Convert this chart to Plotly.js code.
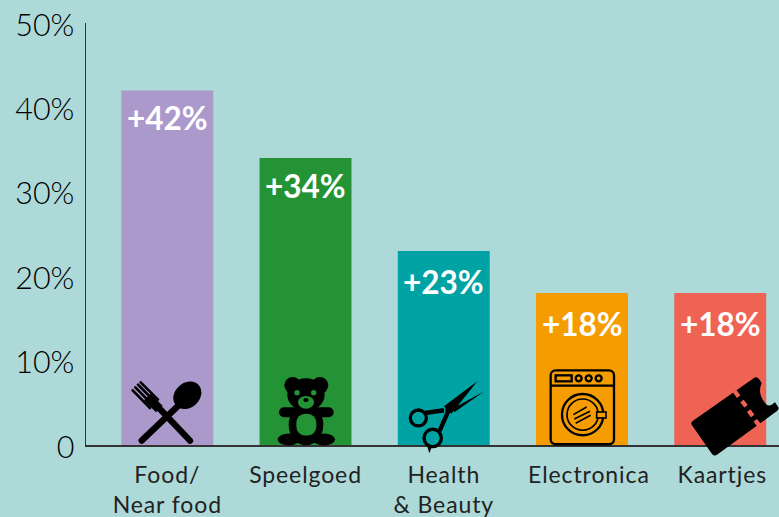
<!DOCTYPE html>
<html><head><meta charset="utf-8">
<script src="https://cdn.plot.ly/plotly-3.0.1.min.js"></script>
<style>html,body{margin:0;padding:0;background:#ADD9D9;overflow:hidden}
.xtick text{letter-spacing:.9px}</style>
</head><body><div id="chart" style="width:779px;height:517px"></div>
<script>
const categories = ["Food/<br>Near food","Speelgoed","Health<br>&amp; Beauty","Electronica","Kaartjes"];
const values = [42,34,23,18,18];
const barColors = ["#AB99CC","#239335","#00A3A3","#F59D00","#EF6354"];
const yTickVals = [0,10,20,30,40,50];
const yTickText = ["0","10%","20%","30%","40%","50%"];
const labelDrop = [-27,-28,-31,-31,-31];
const catLabelPos = [0,1,2,3.05,4.015];
const FONT = "Lato, 'Open Sans', sans-serif";

const L=86,R=779,T=23,B=445.4;
const fork = `<g stroke="#000" fill="none" stroke-linecap="round"><path d="M125 243L235 138" stroke-width="19"/><path d="M270 243L172 140" stroke-width="19"/><path d="M150 145L98 92M158 136L106 83M166 128L114 75M174 120L122 68" stroke-width="8"/><path d="M142 112L178 148" stroke-width="28" stroke-linecap="butt"/></g><ellipse cx="262" cy="107" rx="46" ry="37" transform="rotate(-42 262 107)" fill="#000"/>`;
const bear = `<circle cx="578" cy="77" r="25"/><circle cx="660" cy="77" r="25"/><ellipse cx="618" cy="105" rx="56" ry="49"/><ellipse cx="618" cy="195" rx="52" ry="62"/><path d="M552 158L686 158" stroke="#000" stroke-width="30" stroke-linecap="round"/><ellipse cx="566" cy="240" rx="33" ry="18"/><ellipse cx="672" cy="240" rx="33" ry="18"/><circle cx="591" cy="99" r="8" fill="#239335"/><circle cx="641" cy="99" r="8" fill="#239335"/><ellipse cx="618" cy="128" rx="24" ry="19" fill="#239335"/><ellipse cx="618" cy="121" rx="8" ry="6"/><rect x="589" y="162" width="60" height="66" rx="27" fill="#239335"/>`;
const scissors = `<g fill="none" stroke="#000" stroke-width="10"><circle cx="115" cy="175" r="24"/><circle cx="158" cy="235" r="26"/><path d="M135 160L192 152" stroke-width="14"/><path d="M207 150L178 215" stroke-width="13"/></g><path d="M192 140L292 65L214 162ZM216 148L313 95L224 157Z"/><circle cx="205" cy="150" r="9"/><path d="M140 255L157 258L148 281Z"/>`;
const washer = `<g fill="none" stroke="#000" stroke-width="7"><rect x="512" y="32" width="190" height="222" rx="15"/><path d="M512 78H702"/><rect x="527" y="47" width="48" height="18"/><circle cx="596" cy="56" r="9"/><circle cx="626" cy="56" r="9"/><circle cx="656" cy="56" r="9"/><circle cx="608" cy="165" r="62"/><circle cx="608" cy="165" r="47" stroke-width="5"/><path d="M580 165L620 142M583 178L630 155M587 191L632 167" stroke-width="5"/><rect x="650" y="157" width="28" height="18" fill="#F59D00" stroke-width="5"/></g>`;
const ticket = `<path d="M940 183L1122 55Q1130 50 1137 58L1145 70Q1130 105 1160 135Q1170 142 1185 128L1195 143Q1198 150 1190 155L1012 285Q1003 292 996 283L936 197Q930 190 940 183Z"/><path d="M1064 95L1076 111M1086 124L1098 140M1106 153L1118 169M1126 182L1138 198" stroke="#EF6354" stroke-width="13"/>`;

function svgUri(vb,w,h,inner){
  return "data:image/svg+xml;charset=utf-8,"+encodeURIComponent(`<svg xmlns="http://www.w3.org/2000/svg" width="${w}" height="${h}" viewBox="${vb}">${inner}</svg>`);
}
function icon(vb,x0,y0,inner){
  const p=vb.split(" ").map(Number), w=p[2]/3, h=p[3]/3;
  return {source:svgUri(vb,w*3,h*3,inner),xref:"paper",yref:"paper",x:(x0-L)/(R-L),y:(B-y0)/(B-T),
    sizex:w/(R-L),sizey:h/(B-T),sizing:"stretch",xanchor:"left",yanchor:"top",layer:"above"};
}
const images=[
  icon("90 60 220 200",130,380,fork),
  icon("525 45 185 220",275,375,bear),
  icon("80 60 240 225",406.67,380,scissors),
  icon("505 25 205 235",548.33,368.33,washer),
  icon("925 45 275 250",688.33,375,ticket)
];
const annotations=values.map((v,i)=>({x:i,y:v,xref:"x",yref:"y",text:"<b>+"+v+"%</b>",showarrow:false,
  yanchor:"middle",xanchor:"center",yshift:labelDrop[i],font:{family:FONT,size:31.5,color:"#fff"}}));

Plotly.newPlot("chart",[{type:"bar",x:[0,1,2,3,4],y:values,marker:{color:barColors,line:{width:0}},hoverinfo:"skip"}],{
  width:779,height:517,paper_bgcolor:"#ADD9D9",plot_bgcolor:"#ADD9D9",showlegend:false,bargap:0.335,
  margin:{l:L,r:779-R,t:T,b:517-B,pad:0},
  font:{family:FONT,color:"#1a1a1a"},
  xaxis:{range:[-0.588,4.425],tickmode:"array",tickvals:catLabelPos,ticktext:categories,ticks:"",showgrid:false,zeroline:false,
    showline:true,linecolor:"#333",linewidth:1.5,tickfont:{family:FONT,size:23,color:"#222"},ticklabelstandoff:9,automargin:false},
  yaxis:{range:[0,50],tickmode:"array",tickvals:yTickVals,ticktext:yTickText,ticks:"",showgrid:false,zeroline:false,
    showline:true,linecolor:"#333",linewidth:1.5,tickfont:{family:FONT,size:30.5,weight:300,color:"#000"},ticklabelstandoff:4,ticklabelshift:2,automargin:false},
  images,annotations
},{displayModeBar:false,staticPlot:true});
</script></body></html>
